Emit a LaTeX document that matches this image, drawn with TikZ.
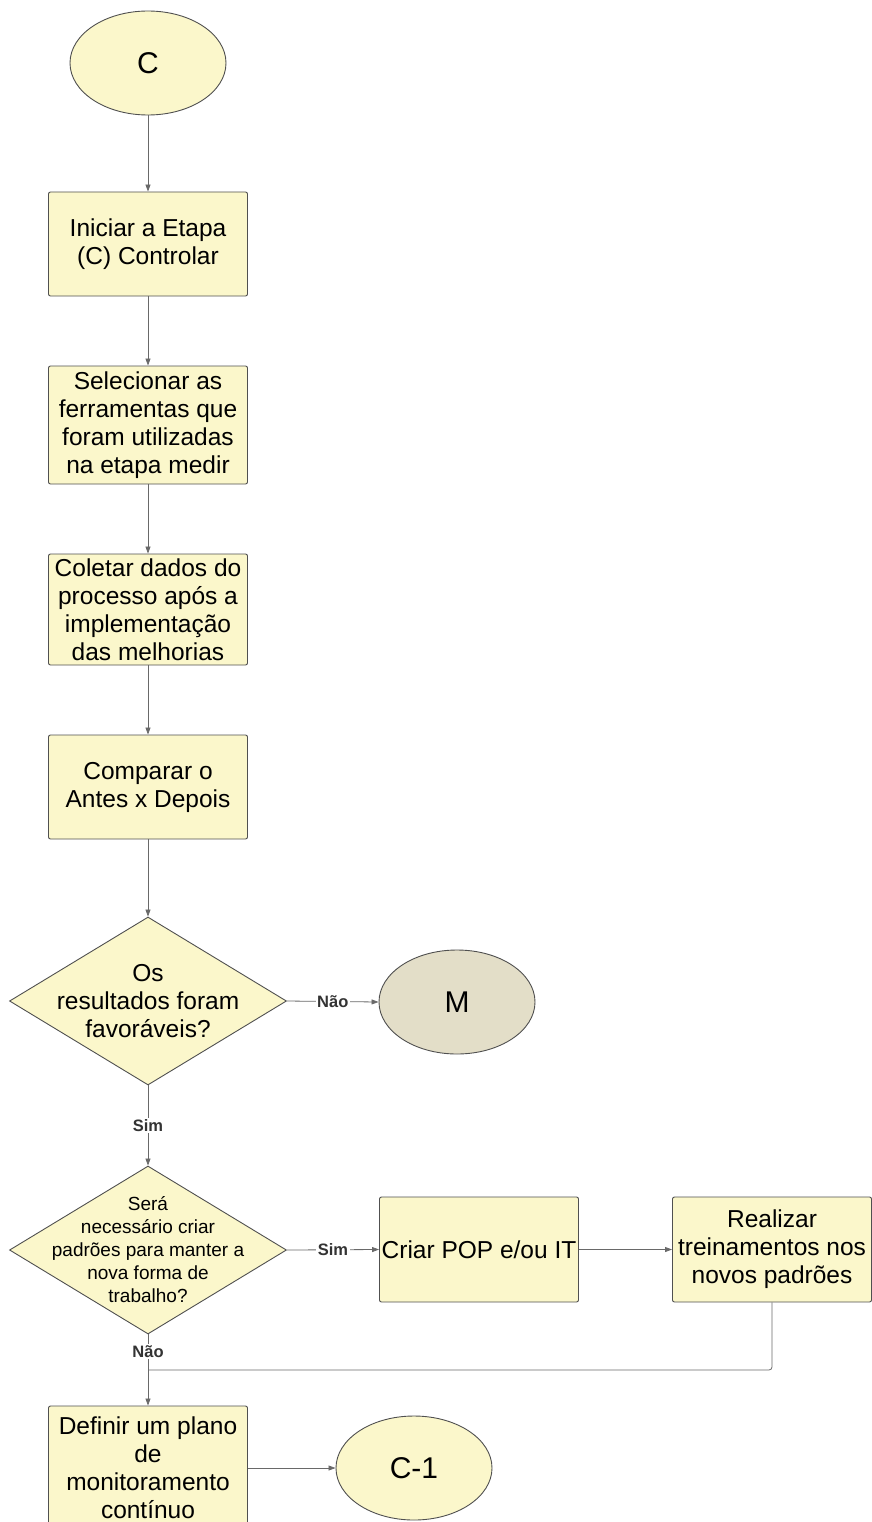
\documentclass[tikz,border=0pt]{standalone}
\usepackage{fontspec}
\setmainfont{Liberation Sans}
\usetikzlibrary{shapes.geometric, arrows.meta}
\definecolor{boxfill}{RGB}{251,247,203}
\definecolor{mfill}{RGB}{227,222,200}
\definecolor{edge}{RGB}{80,80,80}
\definecolor{wire}{RGB}{105,105,105}
\begin{document}
\begin{tikzpicture}[x=1pt,y=-1pt,
  every node/.style={font=\fontsize{24.5}{28}\selectfont, text=black},
  stepbox/.style={draw=edge, fill=boxfill, rounded corners=2pt, line width=0.9pt,
    minimum width=199pt, align=center, inner sep=2pt},
  term/.style={draw=edge, fill=boxfill, ellipse, line width=0.9pt,
    minimum width=156pt, minimum height=104pt, inner sep=0pt,
    font=\fontsize{30}{34}\selectfont},
  decision/.style={draw=edge, fill=boxfill, diamond, line width=0.9pt,
    minimum width=277pt, minimum height=168pt, inner sep=0pt},
  flow/.style={draw=wire, line width=0.8pt, -{Triangle[length=7pt,width=5pt]}},
  wireline/.style={draw=wire, line width=0.8pt},
  tag/.style={fill=white, font=\bfseries\fontsize{16.5}{19}\selectfont,
    text=black!80, inner sep=1.5pt}
]
\useasboundingbox (0,0) rectangle (872,1522);
\clip (0,0) rectangle (872,1522);

% main column
\node[term] (c) at (148,63) {C};
\node[stepbox, minimum height=104pt] (b1) at (148,244) {Iniciar a Etapa\\(C) Controlar};
\node[stepbox, minimum height=118pt] (b2) at (148,425) {Selecionar as\\ferramentas que\\foram utilizadas\\na etapa medir};
\node[stepbox, minimum height=111pt] (b3) at (148,609.5) {Coletar dados do\\processo após a\\implementação\\das melhorias};
\node[stepbox, minimum height=104pt] (b4) at (148,787) {Comparar o\\Antes x Depois};

% decisions
\node[decision, label={[align=center, font=\fontsize{24.5}{28}\selectfont]center:Os\\resultados foram\\favoráveis?}] (d1) at (148,1001) {};
\node[term, fill=mfill] (m) at (457,1002) {M};
\node[decision, label={[align=center, font=\fontsize{19}{23}\selectfont]center:Será\\necessário criar\\padrões para manter a\\nova forma de\\trabalho?}] (d2) at (148,1250) {};

% standards branch
\node[stepbox, minimum height=105pt] (pop) at (479,1249.5) {Criar POP e/ou IT};
\node[stepbox, minimum height=105pt] (real) at (772,1249.5) {Realizar\\treinamentos nos\\novos padrões};

% closing steps
\node[stepbox, minimum height=124pt] (b5) at (148,1468) {Definir um plano\\de\\monitoramento\\contínuo};
\node[term] (c1) at (414,1468) {C-1};
\coordinate (j) at (148,1370);

% connectors
\draw[flow] (c) -- (b1);
\draw[flow] (b1) -- (b2);
\draw[flow] (b2) -- (b3);
\draw[flow] (b3) -- (b4);
\draw[flow] (b4) -- (d1.north);
\draw[flow] (d1.east) -- node[tag]{Não} (m.west);
\draw[flow] (d1.south) -- node[tag]{Sim} (d2.north);
\draw[flow] (d2.east) -- node[tag]{Sim} (pop.west);
\draw[flow] (pop.east) -- (real.west);
\draw[wireline, rounded corners=3pt] (real.south) |- (j);
\draw[flow] (d2.south) -- node[tag, pos=0.24]{Não} (b5.north);
\draw[flow] (b5.east) -- (c1.west);
\end{tikzpicture}
\end{document}
